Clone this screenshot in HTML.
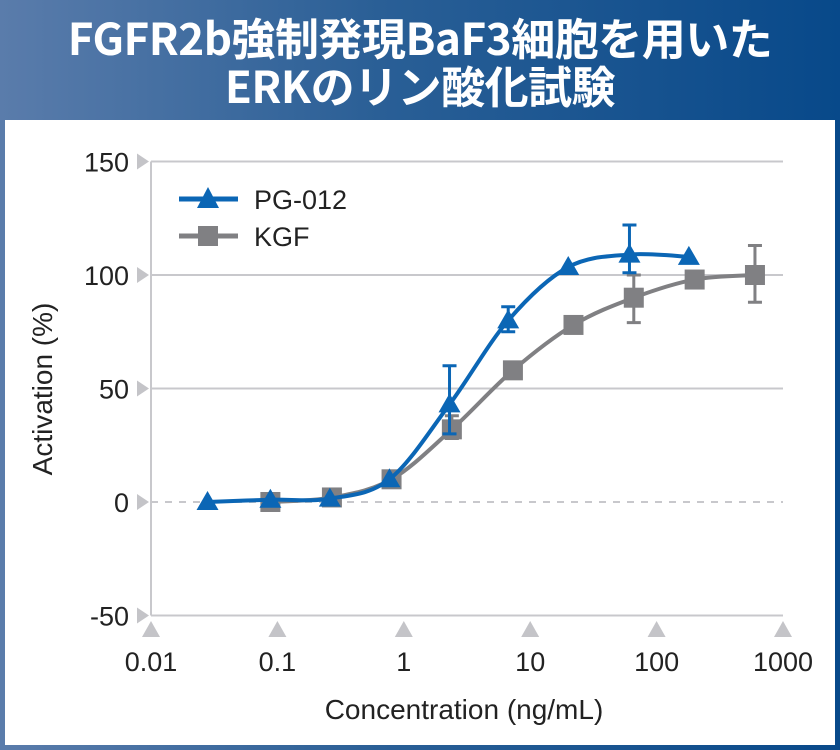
<!DOCTYPE html>
<html><head><meta charset="utf-8"><style>
body{margin:0;width:840px;height:750px;overflow:hidden;font-family:"Liberation Sans","Noto Sans CJK JP",sans-serif}
#bg{position:absolute;left:0;top:0;width:840px;height:750px;background:linear-gradient(90deg,#5a7cab,#2a5f96 45%,#08498a)}
#title{position:absolute;left:0;top:12px;width:840px;text-align:center;color:#fff;font-weight:bold;font-size:44px;line-height:48px;letter-spacing:-0.5px;font-family:"Noto Sans CJK JP",sans-serif}
#panel{position:absolute;left:5px;top:120px;width:830px;height:625px;background:#fff}
svg{position:absolute;left:0;top:0}
</style></head><body>
<div id="bg"></div>
<div id="title">FGFR2b強制発現BaF3細胞を用いた<br>ERKのリン酸化試験</div>
<div id="panel"></div>
<svg id="chart" width="840" height="750"></svg>
<script>
const xTicks=[0.01,0.1,1,10,100,1000];
const xTickLabels=["0.01","0.1","1","10","100","1000"];
const yTicks=[150,100,50,0,-50];
const pgX=[0.028,0.088,0.26,0.77,2.3,6.7,20,61,180];
const pgY=[0,1,1.5,10,43,80,103.5,109,108];
const pgErrHi=[null,null,null,null,60,86,null,122,null];
const pgErrLo=[null,null,null,null,30,75,null,101,null];
const kgX=[0.088,0.27,0.8,2.4,7.3,22,66,200,600];
const kgY=[0,2,10,32,58,78,90,98,100];
const kgErrHi=[null,null,null,38,null,null,100,null,113];
const kgErrLo=[null,null,null,28,null,null,79,null,88];
const svg=document.getElementById('chart');
const NS='http://www.w3.org/2000/svg';
const X0=151,DEC=126.4,Y0=502,PX=113.5/50;
const sx=v=>X0+(Math.log10(v)+2)*DEC;
const sy=v=>Y0-v*PX;
function mk(t,a,p){const e=document.createElementNS(NS,t);for(const k in a)e.setAttribute(k,a[k]);(p||svg).appendChild(e);return e;}
yTicks.forEach(v=>{
 const g=mk('g',{});
 
 
 if(v!==0&&v!==-50)mk('line',{x1:X0,x2:783,y1:sy(v),y2:sy(v),stroke:'#c8c8cc','stroke-width':2},g);
 if(v===0)mk('line',{x1:X0,x2:783,y1:sy(v),y2:sy(v),stroke:'#c8c8cc','stroke-width':2,'stroke-dasharray':'7 7'},g);
 mk('polygon',{points:`${X0-14},${sy(v)-8} ${X0-14},${sy(v)+8} ${X0-2},${sy(v)}`,fill:'#c4c4c8'},g);
 const t=mk('text',{x:X0-22,y:sy(v)+10,'text-anchor':'end','font-size':27,fill:'#222'},g);t.textContent=v;
});
const ax=mk('line',{x1:X0,x2:783,y1:sy(-50),y2:sy(-50),stroke:'#c8c8cc','stroke-width':2});


const ay=mk('line',{x1:X0,x2:X0,y1:sy(150),y2:sy(-50),stroke:'#c8c8cc','stroke-width':2});


xTicks.forEach((v,i)=>{
 const g=mk('g',{});
 
 
 const x=sx(v);
 mk('polygon',{points:`${x-9},${637} ${x+9},${637} ${x},${621}`,fill:'#c4c4c8'},g);
 const t=mk('text',{x:x,y:671,'text-anchor':'middle','font-size':27,fill:'#222'},g);t.textContent=xTickLabels[i];
});
const xt=mk('text',{x:464,y:719,'text-anchor':'middle','font-size':28,fill:'#222'});xt.textContent='Concentration (ng/mL)';


const yt=mk('text',{x:0,y:0,'text-anchor':'middle','font-size':28,fill:'#222',transform:'translate(52,389) rotate(-90)'});yt.textContent='Activation (%)';


function smooth(xs,ys){const p=xs.map((x,i)=>[sx(x),sy(ys[i])]);let d=`M${p[0][0]},${p[0][1]}`;
 for(let i=0;i<p.length-1;i++){const a=p[i-1]||p[i],b=p[i],c=p[i+1],e=p[i+2]||c;
  d+=` C${b[0]+(c[0]-a[0])/6},${b[1]+(c[1]-a[1])/6} ${c[0]-(e[0]-b[0])/6},${c[1]-(e[1]-b[1])/6} ${c[0]},${c[1]}`;}return d;}
function series(name,xs,ys,hi,lo,col,shape){
 const g=mk('g',{});
 
 
 mk('path',{d:smooth(xs,ys),fill:'none',stroke:col,'stroke-width':4},g);
 xs.forEach((x,i)=>{
  const cx=sx(x),cy=sy(ys[i]);
  if(hi[i]!=null){const e=mk('path',{d:`M${cx},${sy(hi[i])}V${sy(lo[i])}M${cx-7},${sy(hi[i])}H${cx+7}M${cx-7},${sy(lo[i])}H${cx+7}`,stroke:col,'stroke-width':3,fill:'none'},g);
   
   }
  let m;
  if(shape==='tri')m=mk('polygon',{points:`${cx-11},${cy+8} ${cx+11},${cy+8} ${cx},${cy-11}`,fill:col},g);
  else m=mk('rect',{x:cx-10,y:cy-10,width:20,height:20,fill:col},g);
  
  
 });
}
series('kgf',kgX,kgY,kgErrHi,kgErrLo,'#808083','sq');
series('pg-012',pgX,pgY,pgErrHi,pgErrLo,'#0b66b5','tri');
const l1=mk('g',{});
mk('line',{x1:179,x2:238,y1:199,y2:199,stroke:'#0b66b5','stroke-width':5},l1);
mk('polygon',{points:'197,208 219,208 208,187',fill:'#0b66b5'},l1);
let t=mk('text',{x:254,y:209,'font-size':27,fill:'#222'},l1);t.textContent='PG-012';
const l2=mk('g',{});
mk('line',{x1:179,x2:238,y1:236,y2:236,stroke:'#808083','stroke-width':5},l2);
mk('rect',{x:198,y:226,width:20,height:20,fill:'#808083'},l2);
t=mk('text',{x:254,y:246,'font-size':27,fill:'#222'},l2);t.textContent='KGF';
</script>
</body></html>
